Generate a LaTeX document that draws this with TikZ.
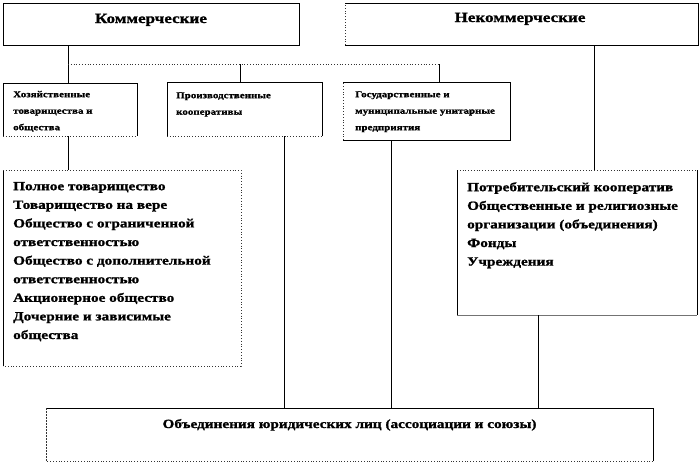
\documentclass[tikz,border=0pt]{standalone}
\usepackage{fontspec}
\setmainfont{Liberation Serif}[FakeStretch=1.22,BoldFeatures={FakeBold=1.2}]
\newcommand{\fl}{\rule{0pt}{12pt}}
\begin{document}
\begin{tikzpicture}[x=1pt,y=-1pt,
  box/.style={draw=none,inner sep=0pt,outer sep=0pt},
  solidedge/.style={draw=black,line width=0.8pt},
  dotedge/.style={draw=black!80,line width=0.8pt,dotted},
  dashedge/.style={draw=black!80,line width=0.7pt,dash pattern=on 2pt off 1pt},
  conn/.style={draw=black,line width=0.8pt},
  dotconn/.style={draw=black!80,line width=0.8pt,dotted},
  toplabel/.style={inner sep=0pt,anchor=base,font=\fontsize{14}{16}\selectfont\bfseries},
  smalltxt/.style={inner sep=0pt,anchor=north west,align=left,font=\fontsize{9}{16.5}\selectfont\bfseries},
  listtxt/.style={inner sep=0pt,anchor=north west,align=left,font=\fontsize{12.5}{18.6}\selectfont\bfseries}]
\useasboundingbox (0,0) rectangle (700,463);

% boxes (geometry)
\node[box,minimum width=296,minimum height=42] (com) at (151,24) {};
\node[box,minimum width=353,minimum height=42] (noncom) at (521.5,24) {};
\node[box,minimum width=134,minimum height=53] (hoz) at (70,109.5) {};
\node[box,minimum width=155,minimum height=54] (proizv) at (244.5,109) {};
\node[box,minimum width=167,minimum height=58] (gos) at (426.5,111) {};
\node[box,minimum width=238,minimum height=196] (list1) at (122,268) {};
\node[box,minimum width=240,minimum height=145] (list2) at (577,242.5) {};
\node[box,minimum width=607,minimum height=53] (assoc) at (349.5,434.5) {};

% box edges
\draw[solidedge] (com.north west) rectangle (com.south east);

\draw[solidedge] (noncom.north west) -- (noncom.north east) -- (noncom.south east) -- (noncom.south west);
\draw[dotedge] (noncom.south west) -- (noncom.north west);

\draw[solidedge] (hoz.south west) -- (hoz.north west) -- (hoz.north east) -- (hoz.south east);
\draw[dotedge] (hoz.south west) -- (hoz.south east);

\draw[solidedge] (proizv.south west) -- (proizv.north west) -- (proizv.north east) -- (proizv.south east);
\draw[dotedge] (proizv.south west) -- (proizv.south east);

\draw[solidedge] (gos.north west) -- (gos.north east) -- (gos.south east) -- (gos.south west);
\draw[dotedge] (gos.south west) -- (gos.north west);

\draw[solidedge] (list1.north west) -- (list1.south west);
\draw[dotedge] (list1.north west) -- (list1.north east) -- (list1.south east) -- (list1.south west);

\draw[dotedge] (list2.north west) -- (list2.north east);
\draw[solidedge] (list2.north east) -- (list2.south east);
\draw[solidedge] (list2.north west) -- (list2.south west);
\draw[draw=black!55,line width=0.8pt] (list2.south west) -- (list2.south east);

\draw[solidedge] (assoc.north west) -- (assoc.north east) -- (assoc.south east);
\draw[dotedge] (assoc.south east) -- (assoc.south west);
\draw[dashedge] (assoc.south west) -- (assoc.north west);

% texts (first baseline = top + 12)
\node[toplabel] (comtxt) at (151,23) {Коммерческие};
\node[toplabel] (noncomtxt) at (520,22) {Некоммерческие};
\node[smalltxt] (hoztxt) at (13,85) {\fl Хозяйственные\\товарищества и\\общества};
\node[smalltxt] (proizvtxt) at (176,86) {\fl Производственные\\кооперативы};
\node[smalltxt] (gostxt) at (355,85) {\fl Государственные и\\муниципальные унитарные\\предприятия};
\node[listtxt] (list1txt) at (13,178) {\fl Полное товарищество\\Товарищество на вере\\Общество с ограниченной\\ответственностью\\Общество с дополнительной\\ответственностью\\Акционерное общество\\Дочерние и зависимые\\общества};
\node[listtxt] (list2txt) at (467,179) {\fl Потребительский кооператив\\Общественные и религиозные\\организации (объединения)\\Фонды\\Учреждения};
\node[toplabel,font=\fontsize{12.5}{15}\selectfont\bfseries] (assoctxt) at (349.5,428) {Объединения юридических лиц (ассоциации и союзы)};

% connectors
\coordinate (jl) at (68,64);
\coordinate (jr) at (439,64);
\coordinate (jm) at (240,64);
\draw[conn] (com.south -| jl) -- (hoz.north -| jl);
\draw[dotconn] (jl) -- (jr);
\draw[conn] (jr) -- (gos.north -| jr);
\draw[conn] (jm) -- (proizv.north -| jm);
\draw[conn] (hoz.south -| jl) -- (list1.north -| jl);
\draw[conn] (proizv.south -| 284,0) -- (assoc.north -| 284,0);
\draw[conn] (gos.south -| 391,0) -- (assoc.north -| 391,0);
\draw[conn] (noncom.south -| 594,0) -- (list2.north -| 594,0);
\draw[conn] (list2.south -| 538,0) -- (assoc.north -| 538,0);
\end{tikzpicture}
\end{document}
